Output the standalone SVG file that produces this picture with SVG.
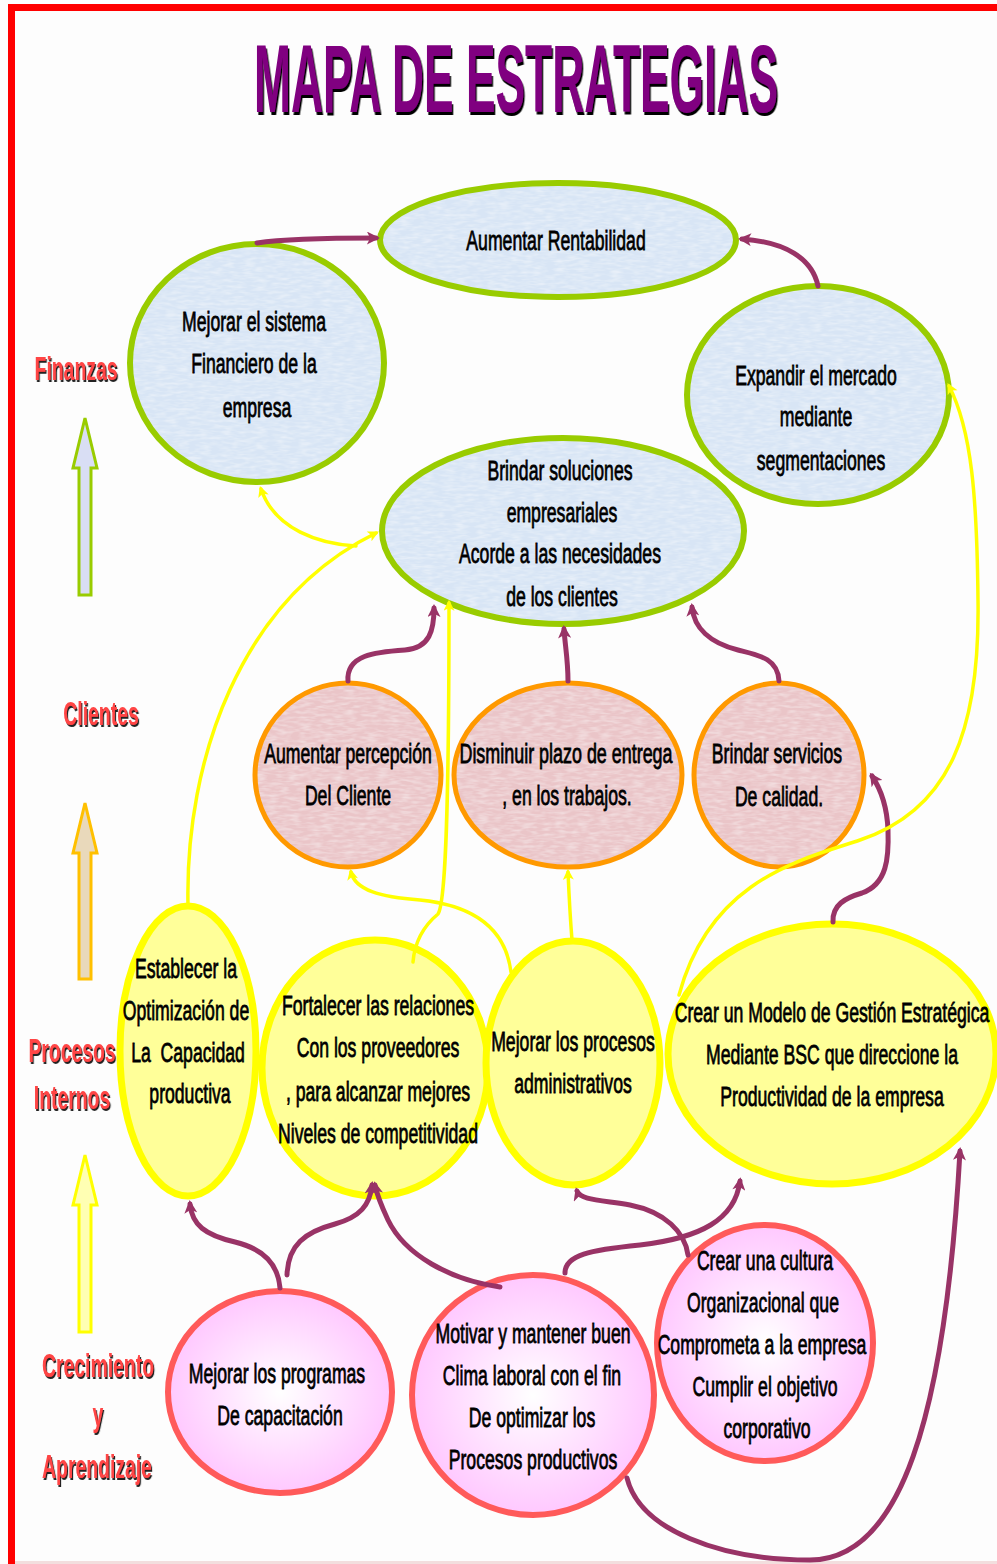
<svg xmlns="http://www.w3.org/2000/svg" width="997" height="1564" viewBox="0 0 997 1564">
  <defs>
    <style>
      .txt { font-family: "Liberation Sans", Arial, sans-serif; font-size: 28px; fill: #000; stroke: #000; stroke-width: 0.8; text-anchor: middle; white-space: pre; }
      .lbl { font-family: "Liberation Sans", Arial, sans-serif; font-size: 34px; font-weight: bold; fill: #ff4444; text-anchor: middle; filter: url(#lblShadow); }
      .title { font-family: "Liberation Sans", Arial, sans-serif; font-size: 96px; font-weight: bold; fill: #800080; text-anchor: middle; filter: url(#titleShadow); }
      .fin { fill: #d8e5f5; }
      .fin-s { fill: none; stroke: #99cc00; stroke-width: 6; }
      .cli { fill: #eac5c8; }
      .cli-s { fill: none; stroke: #ff9900; stroke-width: 5; }
      .pro { fill: #ffff99; stroke: #ffff00; stroke-width: 7; }
      .apr { fill: url(#pinkGrad); stroke: #ff5a5a; stroke-width: 6; }
      .pl { fill: none; stroke: #993366; stroke-width: 5; stroke-linecap: round; marker-end: url(#headP); }
      .yl { fill: none; stroke: #ffff00; stroke-width: 3.5; stroke-linecap: round; marker-end: url(#headY); }
    </style>
    <filter id="titleShadow" x="-5%" y="-10%" width="110%" height="130%">
      <feDropShadow dx="3" dy="3" stdDeviation="0" flood-color="#000"/>
    </filter>
    <filter id="lblShadow" x="-10%" y="-20%" width="120%" height="150%">
      <feDropShadow dx="2" dy="2" stdDeviation="0.4" flood-color="#222"/>
    </filter>
    <!-- fine paper grain for the filled ovals -->
    <filter id="grain" x="0" y="0" width="100%" height="100%">
      <feTurbulence type="fractalNoise" baseFrequency="0.09 0.35" numOctaves="2" seed="4" result="n"/>
      <feColorMatrix in="n" type="matrix" values="0 0 0 0 1  0 0 0 0 1  0 0 0 0 1  0 0 0 0.8 -0.3" result="w"/>
      <feComposite in="w" in2="SourceGraphic" operator="in" result="wi"/>
      <feMerge><feMergeNode in="SourceGraphic"/><feMergeNode in="wi"/></feMerge>
    </filter>
    <radialGradient id="pinkGrad" cx="0.5" cy="0.5" r="0.5">
      <stop offset="0" stop-color="#ffffff"/>
      <stop offset="1" stop-color="#ffc8ff"/>
    </radialGradient>
    <marker id="headP" viewBox="0 0 10 10" refX="7" refY="5" markerUnits="userSpaceOnUse" markerWidth="15" markerHeight="13" orient="auto">
      <path d="M0,0 L10,5 L0,10 L2.5,5 z" fill="#993366"/>
    </marker>
    <marker id="headY" viewBox="0 0 10 10" refX="7" refY="5" markerUnits="userSpaceOnUse" markerWidth="13" markerHeight="11" orient="auto">
      <path d="M0,0 L10,5 L0,10 L2.5,5 z" fill="#ffff00"/>
    </marker>
  </defs>

  <!-- page -->
  <rect x="0" y="0" width="997" height="1564" fill="#fdfdfd"/>
  <rect x="8" y="4" width="989" height="7" fill="#ff0000"/>
  <rect x="8" y="4" width="7" height="1560" fill="#ff0000"/>
  <rect x="15" y="1561" width="982" height="3" fill="#f3dede"/>

  <!-- title -->
  <text class="title" transform="translate(516 112) scale(0.462 1)">MAPA DE ESTRATEGIAS</text>

  <!-- perspective labels and up arrows -->
  <g id="labels">
    <text class="lbl" transform="translate(76 380) scale(0.57 1)">Finanzas</text>
    <text class="lbl" transform="translate(101 725) scale(0.57 1)">Clientes</text>
    <text class="lbl" transform="translate(72 1062) scale(0.57 1)">Procesos</text>
    <text class="lbl" transform="translate(72 1109) scale(0.57 1)">Internos</text>
    <text class="lbl" transform="translate(98 1377) scale(0.57 1)">Crecimiento</text>
    <text class="lbl" transform="translate(98 1426) scale(0.57 1)">y</text>
    <text class="lbl" transform="translate(97 1478) scale(0.57 1)">Aprendizaje</text>
    <polygon points="85,418 97,468 91,468 91,595 79,595 79,468 73,468" fill="#d9def4" stroke="#99cc00" stroke-width="3"/>
    <polygon points="85,803 97,853 91,853 91,979 79,979 79,853 73,853" fill="#e9d9bb" stroke="#ffc000" stroke-width="3"/>
    <polygon points="85,1155 97,1205 91,1205 91,1332 79,1332 79,1205 73,1205" fill="#ffffb3" stroke="#ffff00" stroke-width="3"/>
  </g>

  <!-- Finanzas -->
  <g id="aumentar-rentabilidad">
    <ellipse class="fin" cx="558" cy="240" rx="178" ry="57" filter="url(#grain)"/>
    <ellipse class="fin-s" cx="558" cy="240" rx="178" ry="57"/>
    <text class="txt" transform="translate(556 250) scale(0.63 1)">Aumentar Rentabilidad</text>
  </g>
  <g id="mejorar-sistema-financiero">
    <ellipse class="fin" cx="257" cy="363" rx="127" ry="119" filter="url(#grain)"/>
    <ellipse class="fin-s" cx="257" cy="363" rx="127" ry="119"/>
    <text class="txt" transform="translate(254 331) scale(0.63 1)">Mejorar el sistema</text>
    <text class="txt" transform="translate(254 373) scale(0.63 1)">Financiero de la</text>
    <text class="txt" transform="translate(257 417) scale(0.63 1)">empresa</text>
  </g>
  <g id="expandir-mercado">
    <ellipse class="fin" cx="818" cy="395" rx="131" ry="109" filter="url(#grain)"/>
    <ellipse class="fin-s" cx="818" cy="395" rx="131" ry="109"/>
    <text class="txt" transform="translate(816 385) scale(0.63 1)">Expandir el mercado</text>
    <text class="txt" transform="translate(816 426) scale(0.63 1)">mediante</text>
    <text class="txt" transform="translate(821 470) scale(0.63 1)">segmentaciones</text>
  </g>
  <g id="brindar-soluciones">
    <ellipse class="fin" cx="563" cy="531" rx="181" ry="93" filter="url(#grain)"/>
    <ellipse class="fin-s" cx="563" cy="531" rx="181" ry="93"/>
    <text class="txt" transform="translate(560 480) scale(0.63 1)">Brindar soluciones</text>
    <text class="txt" transform="translate(562 522) scale(0.63 1)">empresariales</text>
    <text class="txt" transform="translate(560 563) scale(0.63 1)">Acorde a las necesidades</text>
    <text class="txt" transform="translate(562 606) scale(0.63 1)">de los clientes</text>
  </g>

  <!-- Clientes -->
  <g id="aumentar-percepcion">
    <ellipse class="cli" cx="348" cy="775" rx="93" ry="92" filter="url(#grain)"/>
    <ellipse class="cli-s" cx="348" cy="775" rx="93" ry="92"/>
    <text class="txt" transform="translate(348 763) scale(0.63 1)">Aumentar percepción</text>
    <text class="txt" transform="translate(348 805) scale(0.63 1)">Del Cliente</text>
  </g>
  <g id="disminuir-plazo">
    <ellipse class="cli" cx="568" cy="775" rx="114" ry="92" filter="url(#grain)"/>
    <ellipse class="cli-s" cx="568" cy="775" rx="114" ry="92"/>
    <text class="txt" transform="translate(566 763) scale(0.64 1)">Disminuir plazo de entrega</text>
    <text class="txt" transform="translate(567 805) scale(0.63 1)">, en los trabajos.</text>
  </g>
  <g id="brindar-servicios">
    <ellipse class="cli" cx="779" cy="775" rx="85" ry="92" filter="url(#grain)"/>
    <ellipse class="cli-s" cx="779" cy="775" rx="85" ry="92"/>
    <text class="txt" transform="translate(777 763) scale(0.63 1)">Brindar servicios</text>
    <text class="txt" transform="translate(779 806) scale(0.63 1)">De calidad.</text>
  </g>

  <!-- Procesos internos -->
  <g id="establecer-optimizacion">
    <ellipse class="pro" cx="188" cy="1051" rx="68" ry="145"/>
    <text class="txt" transform="translate(186 978) scale(0.63 1)">Establecer la</text>
    <text class="txt" transform="translate(186 1020) scale(0.63 1)">Optimización de</text>
    <text class="txt" transform="translate(188 1062) scale(0.63 1)">La  Capacidad</text>
    <text class="txt" transform="translate(190 1103) scale(0.63 1)">productiva</text>
  </g>
  <g id="fortalecer-relaciones">
    <ellipse class="pro" cx="375" cy="1068" rx="113" ry="128"/>
    <text class="txt" transform="translate(378 1015) scale(0.63 1)">Fortalecer las relaciones</text>
    <text class="txt" transform="translate(378 1057) scale(0.63 1)">Con los proveedores</text>
    <text class="txt" transform="translate(378 1101) scale(0.63 1)">, para alcanzar mejores</text>
    <text class="txt" transform="translate(378 1143) scale(0.63 1)">Niveles de competitividad</text>
  </g>
  <g id="mejorar-procesos">
    <ellipse class="pro" cx="573" cy="1063" rx="87" ry="122"/>
    <text class="txt" transform="translate(573 1051) scale(0.63 1)">Mejorar los procesos</text>
    <text class="txt" transform="translate(573 1093) scale(0.63 1)">administrativos</text>
  </g>
  <g id="crear-modelo-gestion">
    <ellipse class="pro" cx="832" cy="1054" rx="164" ry="130"/>
    <text class="txt" transform="translate(832 1022) scale(0.63 1)">Crear un Modelo de Gestión Estratégica</text>
    <text class="txt" transform="translate(832 1064) scale(0.63 1)">Mediante BSC que direccione la</text>
    <text class="txt" transform="translate(832 1106) scale(0.63 1)">Productividad de la empresa</text>
  </g>

  <!-- Crecimiento y aprendizaje -->
  <g id="mejorar-capacitacion">
    <ellipse class="apr" cx="280" cy="1392" rx="112" ry="101"/>
    <text class="txt" transform="translate(277 1383) scale(0.63 1)">Mejorar los programas</text>
    <text class="txt" transform="translate(280 1425) scale(0.63 1)">De capacitación</text>
  </g>
  <g id="motivar-clima">
    <ellipse class="apr" cx="533" cy="1395" rx="121" ry="120"/>
    <text class="txt" transform="translate(533 1343) scale(0.63 1)">Motivar y mantener buen</text>
    <text class="txt" transform="translate(532 1385) scale(0.63 1)">Clima laboral con el fin</text>
    <text class="txt" transform="translate(532 1427) scale(0.63 1)">De optimizar los</text>
    <text class="txt" transform="translate(533 1469) scale(0.63 1)">Procesos productivos</text>
  </g>
  <g id="crear-cultura">
    <ellipse class="apr" cx="765" cy="1343" rx="108" ry="118"/>
    <text class="txt" transform="translate(765 1270) scale(0.63 1)">Crear una cultura</text>
    <text class="txt" transform="translate(763 1312) scale(0.63 1)">Organizacional que</text>
    <text class="txt" transform="translate(762 1354) scale(0.63 1)">Comprometa a la empresa</text>
    <text class="txt" transform="translate(765 1396) scale(0.63 1)">Cumplir el objetivo</text>
    <text class="txt" transform="translate(767 1438) scale(0.63 1)">corporativo</text>
  </g>

  <!-- connectors -->
  <g id="connectors">
    <path class="pl" d="M257,243 C290,238 340,238 376,238"/>
    <path class="pl" d="M818,286 C812,258 785,242 742,239"/>
    <path class="pl" d="M348,681 C346,655 375,652 405,650 C430,648 434,630 434,608"/>
    <path class="pl" d="M568,681 C568,660 565,645 564,629"/>
    <path class="pl" d="M779,681 C778,658 758,655 738,650 C710,643 694,628 692,607"/>
    <path class="pl" d="M833,922 C832,905 845,898 862,893 C887,884 889,858 888,830 C887,805 880,788 872,776"/>
    <path class="pl" d="M280,1288 C278,1262 260,1248 235,1242 C205,1235 192,1225 190,1204"/>
    <path class="pl" d="M287,1275 C288,1245 305,1232 335,1224 C360,1217 370,1205 372,1185"/>
    <path class="pl" d="M500,1287 C450,1280 405,1255 388,1220 C381,1205 377,1195 375,1185"/>
    <path class="pl" d="M565,1273 C565,1255 590,1250 640,1245 C700,1238 735,1220 740,1181"/>
    <path class="pl" d="M688,1255 C685,1232 665,1212 630,1205 C600,1200 580,1200 577,1191"/>
    <path class="pl" d="M627,1478 C640,1530 720,1560 810,1560 C900,1560 945,1420 960,1151"/>
    <path class="yl" d="M188,905 C185,760 240,600 376,533"/>
    <path class="yl" d="M356,546 C320,544 275,530 261,489"/>
    <path class="yl" d="M413,962 C415,938 426,924 438,914 C446,902 449,800 449,603"/>
    <path class="yl" d="M511,972 C505,925 470,905 420,900 C380,897 355,890 351,872"/>
    <path class="yl" d="M572,940 C570,915 569,895 568,872"/>
    <path class="yl" d="M679,995 C710,880 800,860 860,840 C950,810 980,730 978,600 C977,500 972,430 949,386"/>
  </g>
</svg>
